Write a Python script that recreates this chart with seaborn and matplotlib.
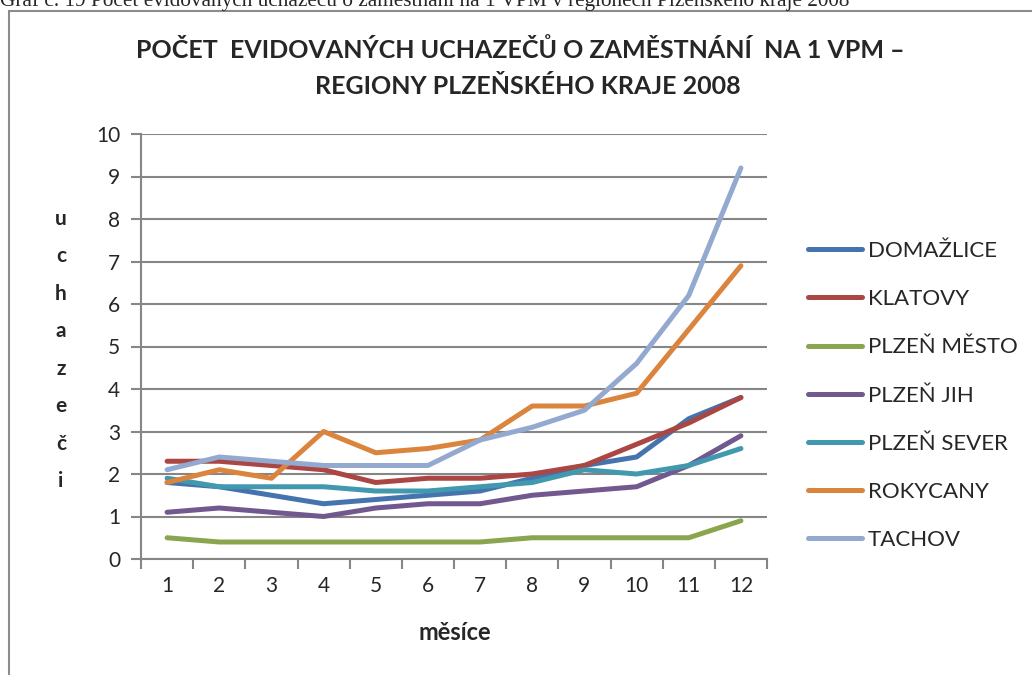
import pandas as pd
import seaborn as sns
import matplotlib.pyplot as plt
from matplotlib.patches import Rectangle

months = list(range(1, 13))
domazlice = [1.8, 1.7, 1.5, 1.3, 1.4, 1.5, 1.6, 1.9, 2.2, 2.4, 3.3, 3.8]
klatovy = [2.3, 2.3, 2.2, 2.1, 1.8, 1.9, 1.9, 2.0, 2.2, 2.7, 3.2, 3.8]
plzen_mesto = [0.5, 0.4, 0.4, 0.4, 0.4, 0.4, 0.4, 0.5, 0.5, 0.5, 0.5, 0.9]
plzen_jih = [1.1, 1.2, 1.1, 1.0, 1.2, 1.3, 1.3, 1.5, 1.6, 1.7, 2.2, 2.9]
plzen_sever = [1.9, 1.7, 1.7, 1.7, 1.6, 1.6, 1.7, 1.8, 2.1, 2.0, 2.2, 2.6]
rokycany = [1.8, 2.1, 1.9, 3.0, 2.5, 2.6, 2.8, 3.6, 3.6, 3.9, 5.4, 6.9]
tachov = [2.1, 2.4, 2.3, 2.2, 2.2, 2.2, 2.8, 3.1, 3.5, 4.6, 6.2, 9.2]

regions = ["DOMAŽLICE", "KLATOVY", "PLZEŇ MĚSTO", "PLZEŇ JIH",
           "PLZEŇ SEVER", "ROKYCANY", "TACHOV"]
series = [domazlice, klatovy, plzen_mesto, plzen_jih, plzen_sever, rokycany, tachov]
colors = ["#4473AD", "#AA4643", "#89A54E", "#71588F", "#4198AF", "#DB843D", "#93A9CF"]

df = pd.DataFrame([
    {"měsíc": m, "hodnota": v, "region": r}
    for r, vals in zip(regions, series)
    for m, v in zip(months, vals)
])

sns.set_style("white")
plt.rcParams["font.family"] = ["Lato", "DejaVu Sans"]

fig = plt.figure(figsize=(10.32, 6.75), dpi=100)
ax = fig.add_axes([141 / 1032, 1 - 559 / 675, 626 / 1032, 425 / 675])

sns.lineplot(data=df, x="měsíc", y="hodnota", hue="region", hue_order=regions,
             palette=colors, linewidth=3.6, ax=ax, legend=False,
             solid_capstyle="round")

grid_c = "#868686"
ax.set_xlim(0.5, 12.5)
ax.set_ylim(0, 10)
ax.set_yticks(range(0, 11))
ax.set_xticks(months)
ax.set_xticks([m - 0.5 for m in months] + [12.5], minor=True)
ax.yaxis.grid(True, color=grid_c, linewidth=1.5)
ax.set_axisbelow(True)
for s in ["top", "right"]:
    ax.spines[s].set_visible(False)
for s in ["left", "bottom"]:
    ax.spines[s].set_color(grid_c)
    ax.spines[s].set_linewidth(1.5)
ax.tick_params(axis="y", which="major", length=7, width=1.5, color=grid_c,
               labelsize=15, pad=8, left=True)
ax.tick_params(axis="x", which="major", length=0, labelsize=15, pad=12)
ax.tick_params(axis="x", which="minor", length=7, width=1.5, color=grid_c,
               bottom=True)
ax.set_xlabel("")
ax.set_ylabel("")

# legend
handles = [plt.Line2D([], [], color=c, linewidth=3.6, solid_capstyle="round")
           for c in colors]
fig.legend(handles, regions, loc="center left",
           bbox_to_anchor=(788 / 1032, 1 - 395.5 / 675), frameon=False,
           fontsize=16, handlelength=2.43, handletextpad=0.27, labelspacing=1.27)

fig.text(520 / 1032, 1 - 50 / 675,
         "POČET  EVIDOVANÝCH UCHAZEČŮ O ZAMĚSTNÁNÍ  NA 1 VPM –",
         ha="center", va="center", fontsize=18, fontweight="bold")
fig.text(528 / 1032, 1 - 86 / 675, "REGIONY PLZEŇSKÉHO KRAJE 2008",
         ha="center", va="center", fontsize=18, fontweight="bold")

fig.text(61 / 1032, 1 - 350 / 675, "\n".join("uchazeči"), ha="center",
         va="center", fontsize=15, fontweight="bold", linespacing=2.09)
fig.text(455 / 1032, 1 - 633 / 675, "měsíce", ha="center", va="center",
         fontsize=17, fontweight="bold")

# caption cut off at top, as in the source scan
fig.text(0, 1 - 6 / 675,
         "Graf č. 19 Počet evidovaných uchazečů o zaměstnání na 1 VPM v regionech Plzeňského kraje 2008",
         ha="left", va="baseline", fontsize=15.3, family="Liberation Serif")

fig.patches.append(Rectangle((9 / 1032, -0.1), 1.2, 1.1 - 11 / 675,
                             transform=fig.transFigure, fill=False,
                             edgecolor="#8c8c8c", linewidth=1.5))

fig.savefig("out.png", dpi=100)
